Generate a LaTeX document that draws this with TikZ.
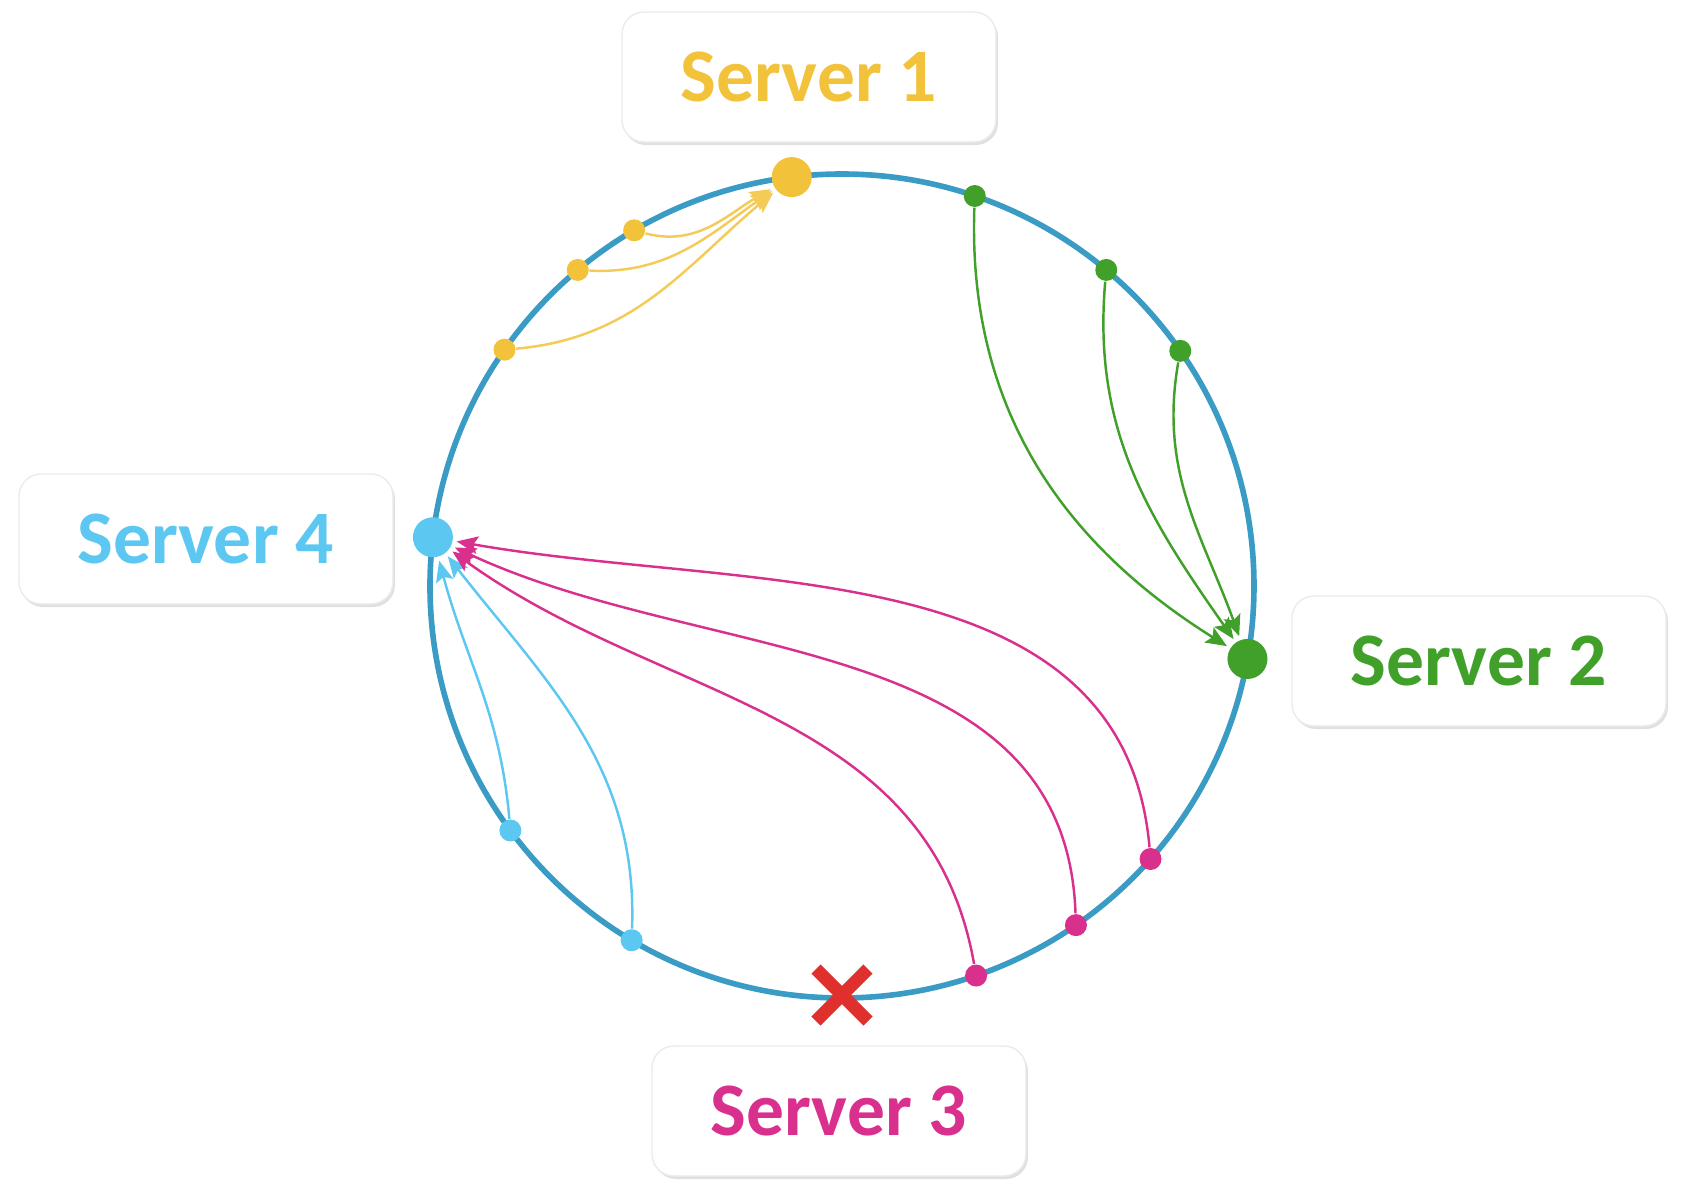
\documentclass[tikz,border=0pt]{standalone}
\usepackage{fontspec}
\setmainfont{Carlito}
\usetikzlibrary{arrows.meta, shadows}

\definecolor{ringblue}{HTML}{3A9CC4}
\definecolor{srvyellow}{HTML}{F2C23A}
\definecolor{srvgreen}{HTML}{40A02A}
\definecolor{srvpink}{HTML}{D9308E}
\definecolor{srvcyan}{HTML}{5CC8F2}
\definecolor{crossred}{HTML}{E0302E}

\begin{document}
\begin{tikzpicture}[
    srvbox/.style={rectangle, rounded corners=0.22cm, draw=black!8, fill=white, minimum width=3.74cm, minimum height=1.3cm, font=\fontsize{21.5}{24}\selectfont\bfseries, drop shadow={shadow xshift=0.02cm, shadow yshift=-0.03cm, fill=black!30, opacity=0.4}},
    bigdot/.style={circle, inner sep=0pt, minimum size=0.4cm},
    smalldot/.style={circle, inner sep=0pt, minimum size=0.22cm},
    link/.style={-{Stealth[length=6pt, width=5pt, inset=1.2pt]}, line width=0.7pt, shorten >=1pt},
    cross/.style={crossred, line width=3.7pt}
  ]
    \useasboundingbox (-8.42,-6.08) rectangle (8.40,5.86);

    % the ring
    \draw[ringblue, line width=1.6pt] (0,0) circle (4.12);

    % server labels
    \node[srvbox, text=srvyellow] (lab1) at (-0.33,5.09) {Server 1};
    \node[srvbox, text=srvgreen]  (lab2) at (6.37,-0.75) {Server 2};
    \node[srvbox, text=srvpink]   (lab3) at (-0.03,-5.25) {Server 3};
    \node[srvbox, text=srvcyan]   (lab4) at (-6.36,0.47) {Server 4};

    % servers on the ring
    \node[bigdot, fill=srvyellow] (s1) at (97:4.12) {};
    \node[bigdot, fill=srvgreen]  (s2) at (-10.2:4.12) {};
    \node[bigdot, fill=srvcyan]   (s4) at (173.2:4.12) {};

    % keys
    \node[smalldot, fill=srvyellow] (y1) at (120.3:4.12) {};
    \node[smalldot, fill=srvyellow] (y2) at (129.9:4.12) {};
    \node[smalldot, fill=srvyellow] (y3) at (145:4.12) {};
    \node[smalldot, fill=srvgreen] (g1) at (71.2:4.12) {};
    \node[smalldot, fill=srvgreen] (g2) at (50.1:4.12) {};
    \node[smalldot, fill=srvgreen] (g3) at (34.8:4.12) {};
    \node[smalldot, fill=srvcyan] (c1) at (216.4:4.12) {};
    \node[smalldot, fill=srvcyan] (c2) at (239.3:4.12) {};
    \node[smalldot, fill=srvpink] (p1) at (289:4.12) {};
    \node[smalldot, fill=srvpink] (p2) at (304.6:4.12) {};
    \node[smalldot, fill=srvpink] (p3) at (318.5:4.12) {};

    \draw[link, srvyellow!85] (y1) to[out=-15, in=210] (s1);
    \draw[link, srvyellow!85] (y2) to[out=-3, in=215] (s1);
    \draw[link, srvyellow!85] (y3) to[out=5, in=220] (s1);

    \draw[link, srvgreen] (g1) to[out=-92, in=148] (s2);
    \draw[link, srvgreen] (g2) to[out=-95, in=125] (s2);
    \draw[link, srvgreen] (g3) to[out=-100, in=110] (s2);

    \draw[link, srvcyan] (c1) to[out=95, in=-75] (s4);
    \draw[link, srvcyan] (c2) to[out=88, in=-52] (s4);

    \draw[link, srvpink] (p1) to[out=100, in=-36] (s4);
    \draw[link, srvpink] (p2) to[out=92, in=-25] (s4);
    \draw[link, srvpink] (p3) to[out=95, in=-10] (s4);

    % server 3 is gone
    \draw[cross] (0,-4.09) ++(-0.26,-0.26) -- ++(0.52,0.52);
    \draw[cross] (0,-4.09) ++(-0.26,0.26) -- ++(0.52,-0.52);
\end{tikzpicture}
\end{document}
